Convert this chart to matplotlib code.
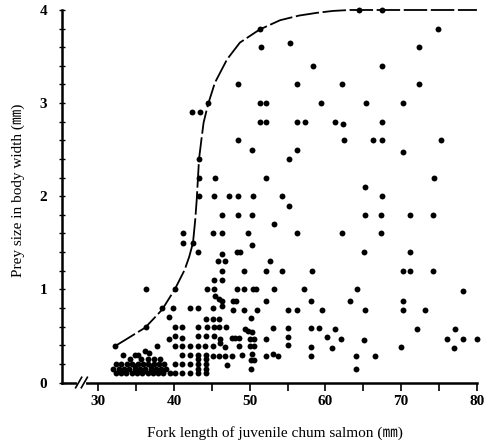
import matplotlib.pyplot as plt

# prey body width (mm) against fork length (mm) of juvenile chum salmon
fork_length = [
    64.4, 67.4,
    51.3, 74.8,
    51.5, 72.4, 55.3,
    58.3, 67.4,
    48.4, 56.3, 62.2, 72.4,
    44.5, 51.3, 52.2, 59.4, 65.4, 70.3,
    42.4, 43.4,
    51.3, 52.2, 56.3, 57.3, 61.3, 62.3, 67.4,
    48.4, 62.4, 66.3, 67.4, 75.3,
    50.3, 56.3, 70.3,
    43.3, 55.2,
    43.3, 45.4, 52.2, 74.3,
    65.2,
    43.3, 45.3, 47.3, 48.4, 50.4, 54.2, 67.4,
    55.2,
    46.3, 48.4, 50.3, 65.2, 67.3, 71.2, 74.2,
    53.2,
    41.2, 45.2, 46.3, 49.8, 56.2, 62.2, 67.3,
    41.2, 42.5, 50.3,
    43.2, 46.3, 48.3, 48.7, 65.1, 71.1,
    45.8, 46.7, 52.7,
    46.3, 49.3, 52.2, 54.2, 58.2, 70.2, 71.1, 74.2,
    45.3, 46.3,
    36.3, 40.1, 44.4, 45.3, 48.3, 49.3, 50.4, 50.8, 53.2, 57.1, 64.1, 78.1,
    45.4, 45.9, 46.3, 47.8, 48.2, 52.2, 58.1, 63.2, 70.2,
    38.4, 39.8, 42.1, 43.2, 45.2, 46.3, 47.8, 49.3, 51.0, 55.1, 56.2, 59.5, 65.2, 70.2, 73.2,
    39.3, 44.2, 45.2, 45.9, 50.2,
    36.3, 40.1, 41.1, 43.2, 44.3, 45.3, 46.0, 46.9, 53.1, 55.1, 58.1, 59.2, 61.2, 72.1, 77.1,
    49.4, 49.8, 50.3,
    39.3, 40.1, 41.1, 43.2, 44.2, 45.3, 46.1, 47.6, 48.1, 48.6, 50.0, 50.5, 52.2, 55.1, 60.2, 62.0, 65.1, 76.0, 78.1, 80.0,
    32.2, 37.7, 40.1, 41.1, 42.1, 43.1, 44.1, 45.2, 46.1, 46.7, 48.6, 50.0, 50.5, 55.1, 58.1, 60.9, 70.0, 77.0,
    33.3, 34.8, 35.3, 36.2, 36.7, 41.1, 42.1, 43.2, 44.2, 45.1, 45.9, 46.7, 47.6, 49.0, 50.3, 52.2, 53.1, 53.7, 58.1, 64.0, 66.5,
    50.1, 50.5, 47.0, 50.1, 64.0,
    # small fish, small prey
    34.2, 35.6, 36.5, 37.4, 38.1, 43.2, 44.2,
    32.3, 33.0, 33.8, 34.5, 35.2, 35.9, 36.6, 37.3, 38.0, 38.7, 40.1, 41.1, 42.1, 43.2, 44.2,
    32.0, 32.7, 33.4, 34.1, 34.8, 35.5, 36.2, 36.9, 37.6, 38.3, 39.0, 43.2, 44.2,
    32.3, 33.0, 33.7, 34.4, 35.1, 35.8, 36.5, 37.2, 37.9, 38.6, 39.4, 40.1, 41.1, 42.1, 43.2, 44.2,
    33.5, 34.9, 36.0, 37.0, 37.8,
]
prey_width = [
    4.0, 4.0,
    3.8, 3.8,
    3.6, 3.6, 3.65,
    3.4, 3.4,
    3.2, 3.2, 3.2, 3.2,
    3.0, 3.0, 3.0, 3.0, 3.0, 3.0,
    2.9, 2.9,
    2.8, 2.8, 2.8, 2.8, 2.8, 2.78, 2.8,
    2.6, 2.6, 2.6, 2.6, 2.6,
    2.5, 2.5, 2.48,
    2.4, 2.4,
    2.2, 2.2, 2.2, 2.2,
    2.1,
    2.0, 2.0, 2.0, 2.0, 2.0, 2.0, 2.0,
    1.9,
    1.8, 1.8, 1.8, 1.8, 1.8, 1.8, 1.8,
    1.7,
    1.6, 1.6, 1.6, 1.6, 1.6, 1.6, 1.6,
    1.5, 1.5, 1.48,
    1.4, 1.38, 1.4, 1.4, 1.4, 1.4,
    1.3, 1.3, 1.3,
    1.2, 1.2, 1.2, 1.2, 1.2, 1.2, 1.2, 1.2,
    1.1, 1.1,
    1.0, 1.0, 1.0, 1.0, 1.0, 1.0, 1.0, 1.0, 1.0, 1.0, 1.0, 0.98,
    0.93, 0.9, 0.88, 0.88, 0.88, 0.88, 0.88, 0.88, 0.88,
    0.8, 0.8, 0.8, 0.8, 0.8, 0.82, 0.78, 0.78, 0.78, 0.78, 0.78, 0.78, 0.78, 0.78, 0.78,
    0.7, 0.68, 0.68, 0.68, 0.69,
    0.6, 0.6, 0.6, 0.6, 0.6, 0.6, 0.6, 0.6, 0.58, 0.58, 0.58, 0.58, 0.57, 0.57, 0.57,
    0.57, 0.55, 0.54,
    0.47, 0.5, 0.48, 0.5, 0.5, 0.5, 0.47, 0.48, 0.48, 0.48, 0.47, 0.47, 0.47, 0.49, 0.49, 0.47, 0.46, 0.47, 0.47, 0.47,
    0.39, 0.39, 0.39, 0.39, 0.39, 0.39, 0.39, 0.39, 0.42, 0.385, 0.39, 0.39, 0.39, 0.4, 0.38, 0.37, 0.38, 0.37,
    0.29, 0.3, 0.29, 0.34, 0.32, 0.3, 0.3, 0.3, 0.3, 0.28, 0.28, 0.28, 0.28, 0.3, 0.31, 0.28, 0.31, 0.28, 0.28, 0.28, 0.28,
    0.24, 0.24, 0.19, 0.14, 0.14,
    0.25, 0.25, 0.25, 0.25, 0.25, 0.25, 0.25,
    0.2, 0.2, 0.2, 0.2, 0.2, 0.2, 0.2, 0.2, 0.2, 0.2, 0.2, 0.2, 0.2, 0.2, 0.2,
    0.15, 0.15, 0.15, 0.15, 0.15, 0.15, 0.15, 0.15, 0.15, 0.15, 0.15, 0.15, 0.15,
    0.1, 0.1, 0.1, 0.1, 0.1, 0.1, 0.1, 0.1, 0.1, 0.1, 0.1, 0.1, 0.1, 0.1, 0.1, 0.1,
    0.12, 0.18, 0.12, 0.18, 0.12,
]

# upper limit of prey size
limit_x = [32.2, 34.0, 36.2, 38.4, 40.1, 41.4, 42.0, 42.5, 42.8, 43.0, 43.3, 43.6, 43.9,
           44.5, 45.4, 47.0, 48.7, 51.3, 54.0, 56.5, 58.9, 61.0, 63.2, 66.0, 80.0]
limit_y = [0.39, 0.48, 0.59, 0.78, 1.0, 1.21, 1.35, 1.50, 1.75, 1.97, 2.40, 2.60, 2.79,
           2.99, 3.22, 3.47, 3.65, 3.79, 3.89, 3.94, 3.97, 3.99, 4.0, 4.0, 4.0]

plt.rcParams["font.family"] = ["Liberation Serif", "Noto Sans CJK JP"]

fig = plt.figure(figsize=(4.87, 4.42), dpi=100)
ax = fig.add_axes([0.1273, 0.1346, 0.852, 0.8428])

ax.plot(limit_x, limit_y, color="black", lw=1.3, dashes=(13, 2), clip_on=False, zorder=2)
ax.scatter(fork_length, prey_width, s=18, color="black", linewidths=0, clip_on=False, zorder=3)

ax.set_xlim(25.2, 80)
ax.set_ylim(0, 4)
ax.spines["top"].set_visible(False)
ax.spines["right"].set_visible(False)
ax.spines["left"].set_linewidth(1.8)
ax.spines["bottom"].set_linewidth(1.8)

ax.set_xticks(range(30, 81, 10))
ax.set_xticks(range(35, 80, 10), minor=True)
ax.set_yticks(range(0, 5))
ax.set_yticks([i / 5 for i in range(1, 20) if i % 5], minor=True)
ax.tick_params(axis="x", which="both", direction="out", length=6, width=1.2, pad=3, labelsize=11)
ax.tick_params(axis="y", which="both", direction="inout", length=5, width=1.0, pad=8, labelsize=11)
for lab in ax.get_xticklabels() + ax.get_yticklabels():
    lab.set_fontweight("bold")

# axis break on the x axis
trans = ax.get_xaxis_transform()
ax.plot([27.5, 28.1], [0, 0], color="white", lw=3, transform=trans, clip_on=False, zorder=4)
for xb in (27.4, 28.15):
    ax.plot([xb - 0.4, xb + 0.4], [-0.014, 0.014], color="black", lw=1.2,
            transform=trans, clip_on=False, zorder=5)

ax.set_xlabel("Fork length of juvenile chum salmon (㎜)", fontsize=11, va="center")
ax.set_ylabel("Prey size in body width (㎜)", fontsize=11, va="center")
ax.xaxis.set_label_coords(0.514, -0.1356)
ax.yaxis.set_label_coords(-0.105, 0.517)

fig.savefig("out.png", dpi=100)
